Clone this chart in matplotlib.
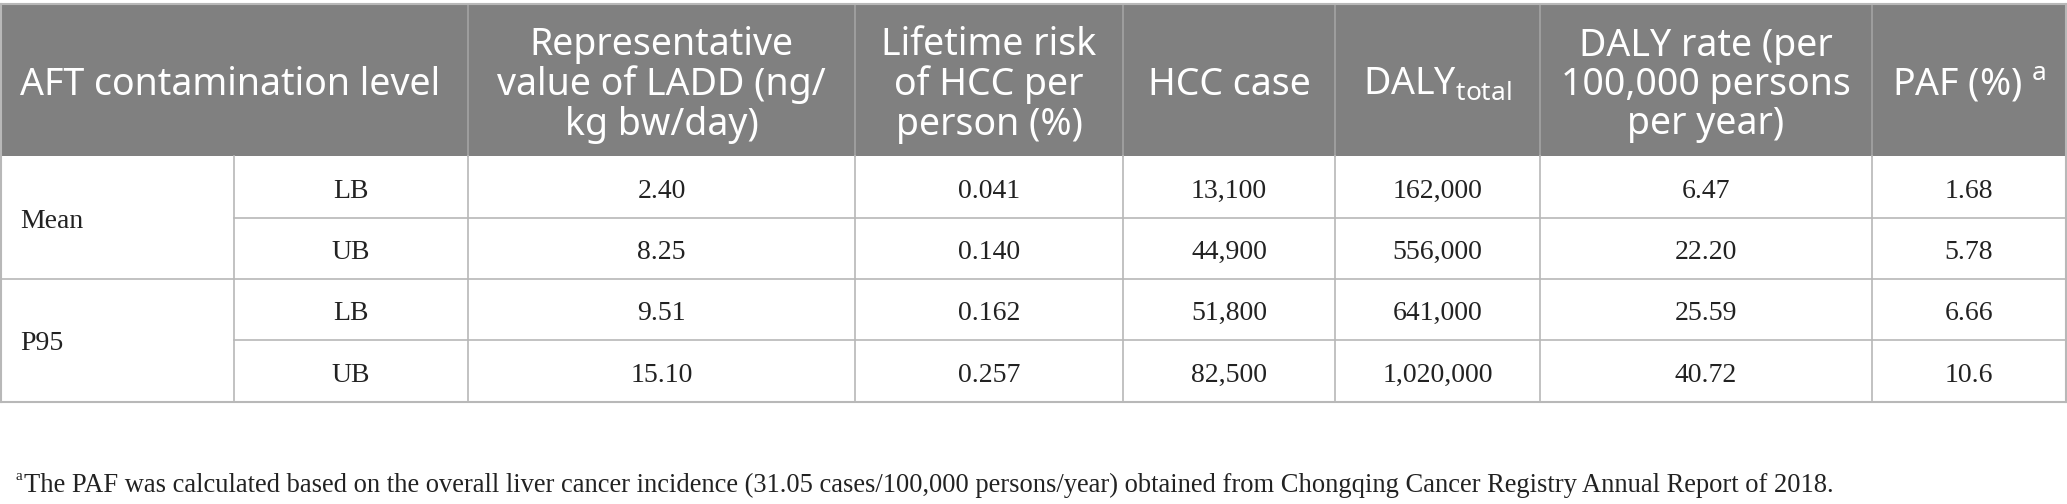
import matplotlib
matplotlib.use("Agg")
import matplotlib.pyplot as plt
from matplotlib.patches import Rectangle

plt.rcParams['mathtext.fontset'] = 'custom'
plt.rcParams['mathtext.rm'] = 'Noto Sans'

# table contents
headers = ["AFT contamination level",
           "Representative\nvalue of LADD (ng/\nkg bw/day)",
           "Lifetime risk\nof HCC per\nperson (%)",
           "HCC case",
           r"DALY$_{\mathrm{total}}$",
           "DALY rate (per\n100,000 persons\nper year)",
           r"PAF (%) $^{\mathrm{a}}$"]
levels = ["Mean", "P95"]
bounds = ["LB", "UB", "LB", "UB"]
ladd = ["2.40", "8.25", "9.51", "15.10"]
risk = ["0.041", "0.140", "0.162", "0.257"]
hcc = ["13,100", "44,900", "51,800", "82,500"]
daly_total = ["162,000", "556,000", "641,000", "1,020,000"]
daly_rate = ["6.47", "22.20", "25.59", "40.72"]
paf = ["1.68", "5.78", "6.66", "10.6"]
footnote = ("The PAF was calculated based on the overall liver cancer incidence "
            "(31.05 cases/100,000 persons/year) obtained from Chongqing Cancer "
            "Registry Annual Report of 2018.")

W, H = 2067, 504
col_x = [0, 234, 468, 855, 1123, 1335, 1540, 1872, 2066]
row_y = [4, 156, 218, 279, 340, 402]

header_bg = "#808080"
grid_c = "#b8b8b8"
sans = "Noto Sans"
serif = "Liberation Serif"
txt_c = "#222222"

fig = plt.figure(figsize=(W / 100, H / 100), dpi=100)
ax = fig.add_axes([0, 0, 1, 1])
ax.set_xlim(0, W)
ax.set_ylim(H, 0)
ax.axis("off")

# header band
ax.add_patch(Rectangle((col_x[0], row_y[0]), col_x[-1] - col_x[0], row_y[1] - row_y[0],
                       facecolor=header_bg, edgecolor="none"))
for x in col_x[2:-1]:
    ax.plot([x, x], [row_y[0], row_y[1]], color="#a3a3a3", lw=1.2)

# grid lines in body
ax.plot([col_x[0], col_x[-1]], [row_y[0], row_y[0]], color=grid_c, lw=1.5)
ax.plot([col_x[0], col_x[-1]], [row_y[-1], row_y[-1]], color=grid_c, lw=1.5)
ax.plot([col_x[0], col_x[-1]], [row_y[3], row_y[3]], color=grid_c, lw=1.2)
for r in (2, 4):
    ax.plot([col_x[1], col_x[-1]], [row_y[r], row_y[r]], color=grid_c, lw=1.2)
for x in col_x[1:-1]:
    ax.plot([x, x], [row_y[1], row_y[-1]], color=grid_c, lw=1.2)
ax.plot([col_x[0] + 0.5, col_x[0] + 0.5], [row_y[0], row_y[-1]], color=grid_c, lw=1.5)
ax.plot([col_x[-1], col_x[-1]], [row_y[0], row_y[-1]], color=grid_c, lw=1.5)

# header text
hy = (row_y[0] + row_y[1]) / 2 + 5
ax.text(20, hy, headers[0], color="white", fontsize=27, family=sans,
        ha="left", va="center")
for i, h in enumerate(headers[1:]):
    cx = (col_x[i + 2] + col_x[i + 3]) / 2
    ax.text(cx, hy, h, color="white", fontsize=27, family=sans,
            ha="center", va="center", linespacing=1.05, multialignment="center")

# body text
for k, lev in enumerate(levels):
    ax.text(20, row_y[2 + 2 * k] + 4, lev, fontsize=20, family=serif,
            ha="left", va="center", color=txt_c)
columns = [bounds, ladd, risk, hcc, daly_total, daly_rate, paf]
for j, vals in enumerate(columns):
    cx = (col_x[j + 1] + col_x[j + 2]) / 2
    for r, v in enumerate(vals):
        cy = (row_y[r + 1] + row_y[r + 2]) / 2 + 4
        ax.text(cx, cy, v, fontsize=20, family=serif, ha="center", va="center",
                color=txt_c)

# footnote
ax.text(16, 477, "a", fontsize=11, family=serif, ha="left", va="center", color=txt_c)
ax.text(24, 485, footnote, fontsize=19.1, family=serif, ha="left", va="center",
        color=txt_c)

fig.savefig("out.png", dpi=100)
